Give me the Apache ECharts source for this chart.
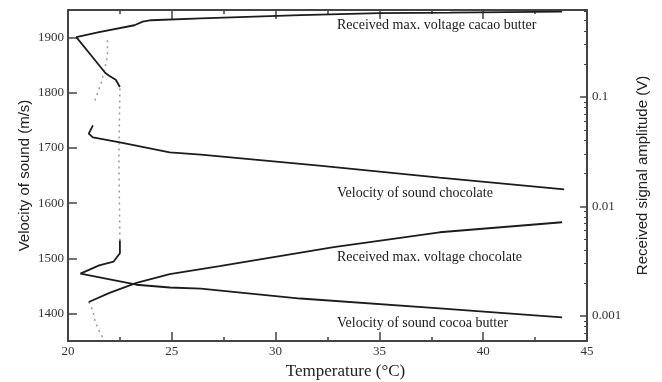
<!DOCTYPE html>
<html>
<head>
<meta charset="utf-8">
<script src="https://cdn.jsdelivr.net/npm/echarts@6/dist/echarts.min.js"></script>
<style>
	html, body { margin: 0; padding: 0; background: #fff; }
	#chart { width: 662px; height: 382px; }
</style>
</head>
<body>
<div id="chart"></div>
<script>
	// [temperature °C, value]  - velocity in m/s, amplitude in V
	var cacaoVoltage = [[43.8, 0.598], [38.4, 0.586], [35.0, 0.58], [31.2, 0.556], [26.4, 0.52], [24.0, 0.50], [23.6, 0.485], [23.2, 0.45], [21.5, 0.39], [20.4, 0.351], [21.1, 0.241], [21.8, 0.165], [22.0, 0.155], [22.3, 0.143], [22.5, 0.123]];
	var chocoVoltage = [[43.8, 0.00716], [37.9, 0.0058], [32.8, 0.00424], [27.3, 0.00285], [24.9, 0.00241], [23.3, 0.0020], [22.0, 0.00162], [21.0, 0.00134]];
	var chocoVoltageLow = [[21.0, 0.00134], [21.2, 0.00111], [21.3, 0.0009], [21.5, 0.00073], [21.7, 0.00062]];
	var chocoVelocity = [[43.9, 1625], [37.9, 1646], [32.1, 1668], [26.4, 1688], [24.9, 1692], [22.5, 1710], [21.2, 1719], [21.0, 1726], [21.2, 1741]];
	var cocoaVelocity = [[43.8, 1393], [37.9, 1409], [31.2, 1427], [26.4, 1445], [24.9, 1447], [23.3, 1452], [20.6, 1472], [21.5, 1487], [22.2, 1494], [22.5, 1509], [22.5, 1532]];
	var cocoaVelocityCryst = [[22.5, 1532], [22.45, 1680], [22.5, 1808]];
	var cacaoVelocityCool = [[21.9, 1895], [21.9, 1867], [21.8, 1849], [21.6, 1818], [21.3, 1786]];

	var velTicks = [1400, 1500, 1600, 1700, 1800, 1900];
	var ampMinor = [0.0006, 0.0007, 0.0008, 0.0009, 0.002, 0.003, 0.004, 0.005, 0.006, 0.007, 0.008, 0.009,
		0.02, 0.03, 0.04, 0.05, 0.06, 0.07, 0.08, 0.09, 0.2, 0.3, 0.4, 0.5, 0.6];

	var labels = [
		{ text: 'Received max. voltage cacao butter', x: 337, y: 25 },
		{ text: 'Velocity of sound chocolate', x: 337, y: 193 },
		{ text: 'Received max. voltage chocolate', x: 337, y: 257 },
		{ text: 'Velocity of sound cocoa butter', x: 337, y: 323 }
	];

	var ampMin = 0.00059, ampMax = 0.62;
	var axisColor = '#444';
	var serif = 'Liberation Serif';
	var sans = 'Liberation Sans';

	function solid(name, data, yIdx) {
		return {
			name: name, type: 'line', yAxisIndex: yIdx, data: data,
			symbol: 'none', silent: true,
			lineStyle: { color: '#1c1c1c', width: 1.8 }
		};
	}
	function dotted(name, data, yIdx) {
		return {
			name: name, type: 'line', yAxisIndex: yIdx, data: data,
			symbol: 'none', silent: true,
			lineStyle: { color: '#9a9a9a', width: 1.5, type: [2, 4] }
		};
	}

	var chart = echarts.init(document.getElementById('chart'));
	chart.setOption({
		animation: false,
		grid: { left: 68, right: 75, top: 10, bottom: 41, outerBoundsMode: 'none' },
		xAxis: [{
			type: 'value', min: 20, max: 45, interval: 5,
			name: 'Temperature (°C)', nameLocation: 'middle', nameGap: 22,
			nameTextStyle: { fontFamily: serif, fontSize: 17, color: '#222', padding: [0, 0, 0, 36] },
			axisLine: { lineStyle: { color: axisColor, width: 2 } },
			axisTick: { inside: true, length: 9, lineStyle: { color: axisColor, width: 1.5 } },
			minorTick: { show: true, splitNumber: 2, length: 4, lineStyle: { color: axisColor, width: 1.5 } },
			axisLabel: { fontFamily: serif, fontSize: 13, color: '#333', margin: 4 },
			splitLine: { show: false }
		}, {
			type: 'value', position: 'top', min: 20, max: 45, interval: 5,
			axisLine: { lineStyle: { color: axisColor, width: 2 } },
			axisTick: { inside: true, length: 9, lineStyle: { color: axisColor, width: 1.5 } },
			minorTick: { show: true, splitNumber: 2, length: 4, lineStyle: { color: axisColor, width: 1.5 } },
			axisLabel: { show: false },
			splitLine: { show: false }
		}],
		yAxis: [{
			type: 'value', min: 1350, max: 1950,
			name: 'Velocity of sound (m/s)', nameLocation: 'middle', nameGap: 36, nameMoveOverlap: false,
			nameTextStyle: { fontFamily: sans, fontSize: 15, color: '#222' },
			axisLine: { show: true, lineStyle: { color: axisColor, width: 2 } },
			axisTick: { inside: true, length: 9, customValues: velTicks, lineStyle: { color: axisColor, width: 1.5 } },
			axisLabel: {
				fontFamily: serif, fontSize: 13, color: '#333', margin: 4, customValues: velTicks,
				formatter: function (v) { return String(v); }
			},
			splitLine: { show: false }
		}, {
			type: 'log', logBase: 10, min: ampMin, max: ampMax, position: 'right',
			name: 'Received signal amplitude (V)', nameLocation: 'middle', nameGap: 48, nameRotate: 90,
			nameTextStyle: { fontFamily: sans, fontSize: 15, color: '#222' },
			axisLine: { show: true, lineStyle: { color: axisColor, width: 2 } },
			axisTick: { inside: true, length: 7, lineStyle: { color: axisColor, width: 1.5 } },
			axisLabel: {
				fontFamily: serif, fontSize: 13, color: '#333', margin: 5,
				showMinLabel: false, showMaxLabel: false,
				formatter: function (v) {
					var l = Math.log10(v);
					return Math.abs(l - Math.round(l)) < 1e-6 ? String(+v.toPrecision(1)) : '';
				}
			},
			splitLine: { show: false }
		}, {
			type: 'log', logBase: 10, min: ampMin, max: ampMax, position: 'right',
			axisLine: { show: false },
			axisTick: { inside: true, length: 3, customValues: ampMinor, lineStyle: { color: axisColor, width: 1 } },
			axisLabel: { show: false },
			splitLine: { show: false }
		}],
		graphic: labels.map(function (l) {
			return {
				type: 'text', x: l.x, y: l.y, silent: true,
				style: { text: l.text, font: '14px "Liberation Serif"', fill: '#1a1a1a', verticalAlign: 'middle' }
			};
		}),
		series: [
			dotted('cacao butter velocity (cooling)', cacaoVelocityCool, 0),
			dotted('cocoa butter velocity (crystallising)', cocoaVelocityCryst, 0),
			dotted('chocolate voltage (low)', chocoVoltageLow, 1),
			solid('Received max. voltage cacao butter', cacaoVoltage, 1),
			solid('Received max. voltage chocolate', chocoVoltage, 1),
			solid('Velocity of sound chocolate', chocoVelocity, 0),
			solid('Velocity of sound cocoa butter', cocoaVelocity, 0)
		]
	});
</script>
</body>
</html>
